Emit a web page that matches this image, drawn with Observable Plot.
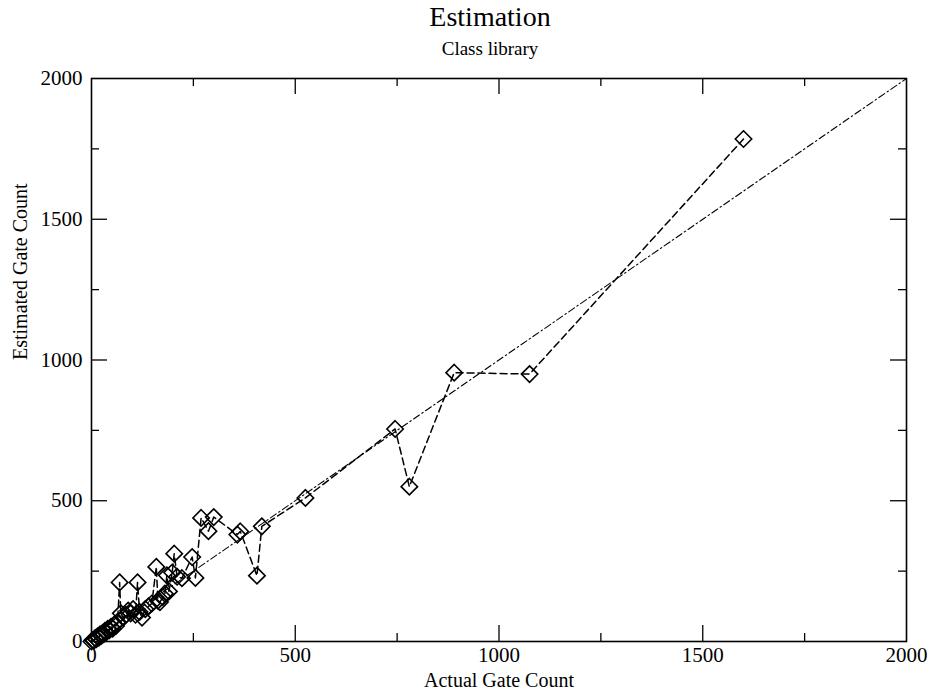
<!DOCTYPE html>
<html>
<head>
<meta charset="utf-8">
<script src="https://cdn.jsdelivr.net/npm/d3@7"></script>
<script src="https://cdn.jsdelivr.net/npm/@observablehq/plot@0.6"></script>
<style>
  html, body { margin: 0; padding: 0; background: #fff; }
  #wrap { position: relative; width: 933px; height: 696px; font-family: "Liberation Serif", "DejaVu Serif", serif; color: #000; }
  #title { position: absolute; left: 0; width: 980px; top: 1px; text-align: center; font-size: 28px; line-height: 32px; }
  #subtitle { position: absolute; left: 0; width: 980px; top: 38px; text-align: center; font-size: 19px; line-height: 22px; }
  #chart { position: absolute; left: 0; top: 64px; }
</style>
</head>
<body>
<div id="wrap">
  <div id="title">Estimation</div>
  <div id="subtitle">Class library</div>
  <div id="chart"></div>
</div>
<script>
// Actual gate count (x) and estimated gate count (y), ordered by actual count
const actual = [0, 3, 6, 9, 12, 15, 18, 21, 24, 27, 30, 33, 36, 40, 44, 48, 52, 56, 60, 64,
  69, 72, 78, 84, 90, 96, 102, 108, 113, 118, 124, 132, 140, 148, 159, 163, 168, 175, 180,
  185, 190, 198, 203, 210, 222, 247, 255, 269, 287, 300, 358, 365, 406, 418, 525, 745,
  780, 890, 1075, 1600];
const estimated = [0, 5, 3, 12, 8, 18, 14, 25, 20, 30, 26, 38, 32, 45, 40, 52, 46, 60, 55, 70,
  210, 100, 85, 95, 110, 100, 115, 95, 210, 105, 85, 115, 125, 135, 265, 145, 140, 158, 170,
  235, 178, 245, 312, 230, 225, 300, 226, 439, 392, 442, 380, 391, 234, 409, 510, 755,
  550, 955, 950, 1785];
// Reference line (estimate = actual)
const diagX = [0, 2000];
const diagY = [0, 2000];
// Axis ticks
const tickValues = [0, 500, 1000, 1500, 2000];
const majorInner = [500, 1000, 1500];
const minorInner = [250, 750, 1250, 1750];

const points = actual.map((x, i) => ({x, y: estimated[i]}));
const diag = diagX.map((x, i) => ({x, y: diagY[i]}));

const W = 933, H = 632, mL = 91, mR = 27, mT = 14, mB = 55;
const pw = W - mL - mR, ph = H - mT - mB;
const majorLen = 16, minorLen = 8;

const chart = Plot.plot({
  width: W, height: H,
  marginLeft: mL, marginRight: mR, marginTop: mT, marginBottom: mB,
  style: {fontFamily: "'Liberation Serif', serif", fontSize: "21px", color: "#000", background: "#fff"},
  x: {domain: [0, 2000], ticks: tickValues, tickSize: 0, tickPadding: 6, label: null, tickFormat: d => String(d)},
  y: {domain: [0, 2000], ticks: tickValues, tickSize: 0, tickPadding: 9, label: null, tickFormat: d => String(d)},
  marks: [
    // inward ticks, bottom/top
    Plot.ruleX(majorInner, {x: d => d, insetTop: ph - majorLen, stroke: "#000", strokeWidth: 1.3}),
    Plot.ruleX(minorInner, {x: d => d, insetTop: ph - minorLen, stroke: "#000", strokeWidth: 1.3}),
    Plot.ruleX(majorInner, {x: d => d, insetBottom: ph - majorLen, stroke: "#000", strokeWidth: 1.3}),
    Plot.ruleX(minorInner, {x: d => d, insetBottom: ph - minorLen, stroke: "#000", strokeWidth: 1.3}),
    // inward ticks, left/right
    Plot.ruleY(majorInner, {y: d => d, insetRight: pw - majorLen, stroke: "#000", strokeWidth: 1.3}),
    Plot.ruleY(minorInner, {y: d => d, insetRight: pw - minorLen, stroke: "#000", strokeWidth: 1.3}),
    Plot.ruleY(majorInner, {y: d => d, insetLeft: pw - majorLen, stroke: "#000", strokeWidth: 1.3}),
    Plot.ruleY(minorInner, {y: d => d, insetLeft: pw - minorLen, stroke: "#000", strokeWidth: 1.3}),
    Plot.line(diag, {x: "x", y: "y", stroke: "#000", strokeWidth: 1.1, strokeDasharray: "7,3,1.5,3"}),
    Plot.line(points, {x: "x", y: "y", stroke: "#000", strokeWidth: 1.5, strokeDasharray: "7,4"}),
    Plot.dot(points, {x: "x", y: "y", symbol: "diamond2", r: 7.4, stroke: "#000", strokeWidth: 1.6, fill: "none"}),
    Plot.frame({stroke: "#000", strokeWidth: 1.6}),
    Plot.text(["Actual Gate Count"], {frameAnchor: "bottom", dy: 45, fontSize: 20, text: d => d}),
    Plot.text(["Estimated Gate Count"], {frameAnchor: "left", dx: -71, rotate: -90, fontSize: 20, text: d => d})
  ]
});
document.getElementById("chart").appendChild(chart);
</script>
</body>
</html>
